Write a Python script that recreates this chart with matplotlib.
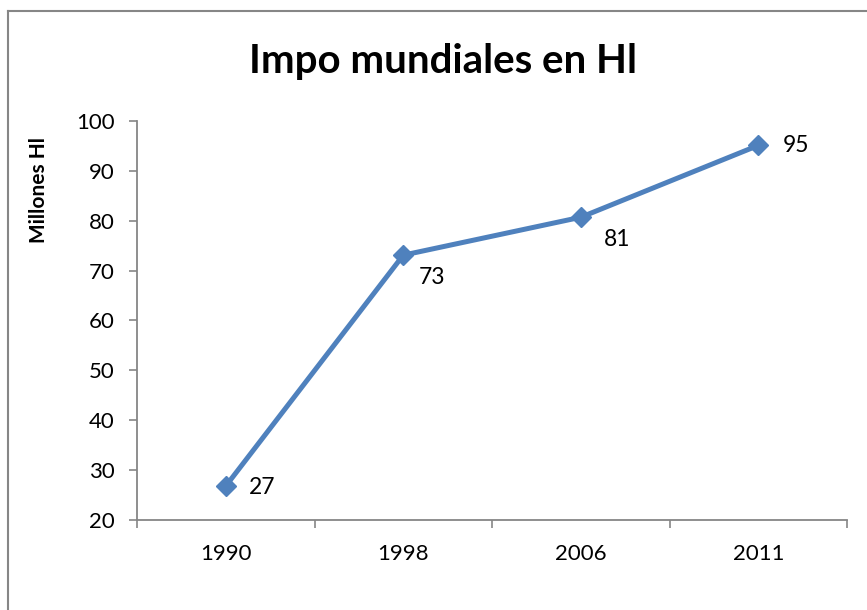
import matplotlib
matplotlib.use("Agg")
import matplotlib.pyplot as plt
from matplotlib.lines import Line2D
import numpy as np

# data
years = ["1990", "1998", "2006", "2011"]
values = [26.8, 73.1, 80.7, 95.1]
labels = ["27", "73", "81", "95"]

plt.rcParams['font.family'] = ['Lato', 'DejaVu Sans']

blue = "#4F81BD"
axis_gray = "#868686"

W, H = 867, 610
fig = plt.figure(figsize=(W / 100, H / 100), dpi=100)
ax = fig.add_axes([137 / W, 1 - 520 / H, 710 / W, 399 / H])

x = np.arange(len(years))
ax.plot(x, values, color=blue, linewidth=3.6, marker="D", markersize=10,
        markerfacecolor=blue, markeredgecolor=blue, solid_joinstyle="round")

# data labels (Excel puts some below-right), offsets in points
offsets = [(17, -1), (11.5, -16), (16.5, -16), (18, 0)]
for xi, v, lab, off in zip(x, values, labels, offsets):
    ax.annotate(lab, (xi, v), xytext=off, textcoords="offset points",
                fontsize=16.5, va="center", ha="left", color="black")

ax.set_ylim(20, 100)
ax.set_yticks(range(20, 101, 10))
ax.set_xlim(-0.5, len(years) - 0.5)

# category boundaries get tick marks, centres get the labels
ax.set_xticks(np.arange(-0.5, len(years), 1.0))
ax.set_xticklabels([])
ax.set_xticks(x, minor=True)
ax.set_xticklabels(years, minor=True)
ax.tick_params(axis="x", which="major", length=6, width=1.2, color=axis_gray, direction="out")
ax.tick_params(axis="x", which="minor", length=0, pad=17, labelsize=16)
ax.tick_params(axis="y", length=6, width=1.2, color=axis_gray, direction="out",
               labelsize=16, pad=10)

for side in ["top", "right"]:
    ax.spines[side].set_visible(False)
for side in ["left", "bottom"]:
    ax.spines[side].set_color(axis_gray)
    ax.spines[side].set_linewidth(1.3)

ax.set_ylabel("Millones Hl", fontsize=15, fontweight="bold", va="center")
ax.yaxis.set_label_coords((39 - 137) / 710, (520 - 190) / 399)
fig.text(443 / W, 1 - 62 / H, "Impo mundiales en Hl", fontsize=29, fontweight="bold",
         ha="center", va="center")

# chart border (only top and left edges visible in the crop)
fig.add_artist(Line2D([8 / W, 1], [1 - 11 / H, 1 - 11 / H], transform=fig.transFigure,
                      color=axis_gray, linewidth=1.5))
fig.add_artist(Line2D([8 / W, 8 / W], [0, 1 - 11 / H], transform=fig.transFigure,
                      color=axis_gray, linewidth=1.5))

fig.savefig("out.png", dpi=100)
